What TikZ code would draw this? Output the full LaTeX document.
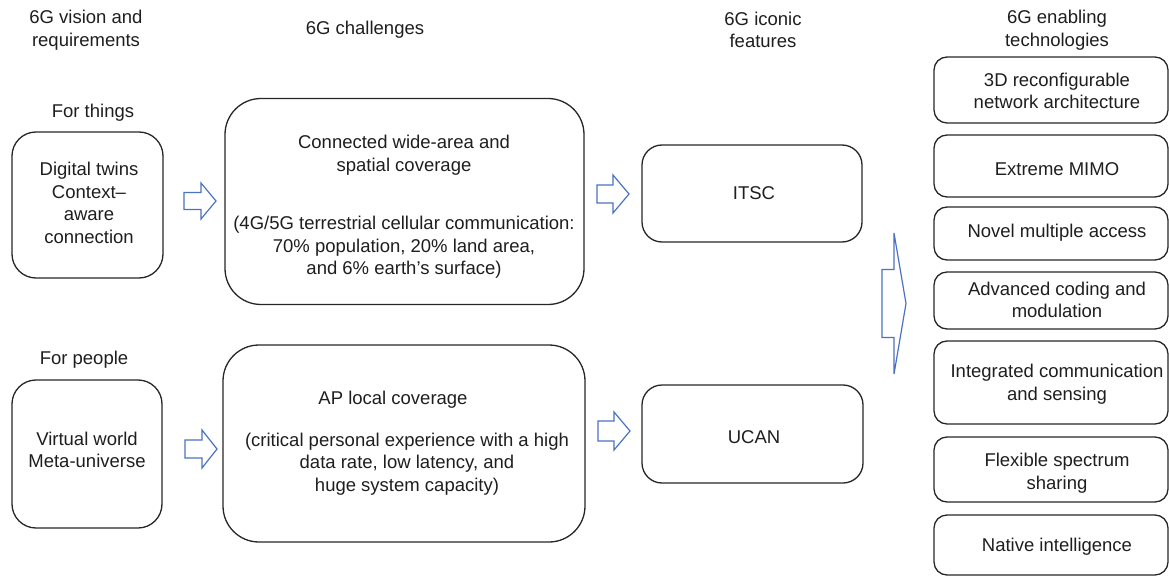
\documentclass[tikz,border=0pt]{standalone}
\usepackage{fontspec}
\setmainfont{Liberation Sans}
\definecolor{inkgray}{HTML}{1E1E1E}
\definecolor{edgegray}{HTML}{262626}
\definecolor{arrowblue}{HTML}{4A72C2}

% Hollow block arrow: left x, centre y, tail length, head length, body half-height, head half-height
\newcommand\blkarrow[6]{%
  \draw[barrow] (#1,{#2-#5}) -- ({#1+#3},{#2-#5}) -- ({#1+#3},{#2-#6})
    -- ({#1+#3+#4},#2) -- ({#1+#3},{#2+#6}) -- ({#1+#3},{#2+#5})
    -- (#1,{#2+#5}) -- cycle;}

\begin{document}
\begin{tikzpicture}[x=1pt,y=-1pt,
  rbox/.style={draw=edgegray, line width=1.3pt, inner sep=0pt},
  txt/.style={text=inkgray, align=center, inner sep=0pt,
    font=\fontsize{18.5}{22.5}\selectfont},
  barrow/.style={draw=arrowblue, line width=1.2pt, line join=miter}]
\useasboundingbox (0,0) rectangle (1169,577);

% column headings
\node[txt] (hvision) at (86,30) {6G vision and\\requirements};
\node[txt] (hchall) at (365,30) {6G challenges};
\node[txt] (hicon) at (763,30) {6G iconic\\features};
\node[txt] (henab) at (1057,30) {6G enabling\\technologies};

% vision and requirements
\node[txt] (lthings) at (93,113) {For things};
\node[rbox, minimum width=151pt, minimum height=146pt, rounded corners=24pt] (vthings) at (87.5,205) {};
\node[txt] (vthingstxt) at (89,203) {Digital twins\\Context--\\aware\\connection};

\node[txt] (lpeople) at (84,360) {For people};
\node[rbox, minimum width=150pt, minimum height=148pt, rounded corners=24pt] (vpeople) at (87,454) {};
\node[txt] (vpeopletxt) at (87,450) {Virtual world\\Meta-universe};

% challenges
\node[rbox, minimum width=359pt, minimum height=206pt, rounded corners=36pt] (cwide) at (404.5,201.5) {};
\node[txt] (cwidetxt) at (404,207) {Connected wide-area and\\spatial coverage\\[36pt]
  (4G/5G terrestrial cellular communication:\\70\% population, 20\% land area,\\and 6\% earth’s surface)};

\node[rbox, minimum width=362pt, minimum height=197pt, rounded corners=36pt] (clocal) at (404,443.5) {};
\node[txt] (clocaltxt) at (407,443) {AP local coverage\hspace*{28pt}\\[19.5pt]
  (critical personal experience with a high\\data rate, low latency, and\\huge system capacity)};

% iconic features
\node[rbox, minimum width=220pt, minimum height=97pt, rounded corners=20pt] (itsc) at (752,193.5) {};
\node[txt] (itsctxt) at (754,193) {ITSC};
\node[rbox, minimum width=221pt, minimum height=98pt, rounded corners=20pt] (ucan) at (752.5,434) {};
\node[txt] (ucantxt) at (754,437) {UCAN};

% enabling technologies
\node[rbox, minimum width=234pt, minimum height=66pt, rounded corners=13pt] (t1) at (1051,90) {};
\node[txt] (t1txt) at (1057,91) {3D reconfigurable\\network architecture};
\node[rbox, minimum width=234pt, minimum height=62pt, rounded corners=13pt] (t2) at (1051,166) {};
\node[txt] (t2txt) at (1057,169) {Extreme MIMO};
\node[rbox, minimum width=234pt, minimum height=53pt, rounded corners=13pt] (t3) at (1051,233.5) {};
\node[txt] (t3txt) at (1057,233) {Novel multiple access};
\node[rbox, minimum width=234pt, minimum height=57pt, rounded corners=13pt] (t4) at (1051,300.5) {};
\node[txt] (t4txt) at (1057,300) {Advanced coding and\\modulation};
\node[rbox, minimum width=234pt, minimum height=83pt, rounded corners=13pt] (t5) at (1051,382.5) {};
\node[txt] (t5txt) at (1057,384) {Integrated communication\\and sensing};
\node[rbox, minimum width=234pt, minimum height=65pt, rounded corners=13pt] (t6) at (1051,469.5) {};
\node[txt] (t6txt) at (1057,473) {Flexible spectrum\\sharing};
\node[rbox, minimum width=234pt, minimum height=60pt, rounded corners=13pt] (t7) at (1051,545) {};
\node[txt] (t7txt) at (1057,547) {Native intelligence};

% hollow block arrows
\blkarrow{184}{201}{17}{15}{8.5}{18}
\blkarrow{185}{449}{17}{15}{9}{19}
\blkarrow{597}{194}{16}{16}{9}{19}
\blkarrow{598}{431}{16}{16}{10}{19}
\blkarrow{882}{303.5}{12}{12}{34}{70.5}
\end{tikzpicture}
\end{document}
